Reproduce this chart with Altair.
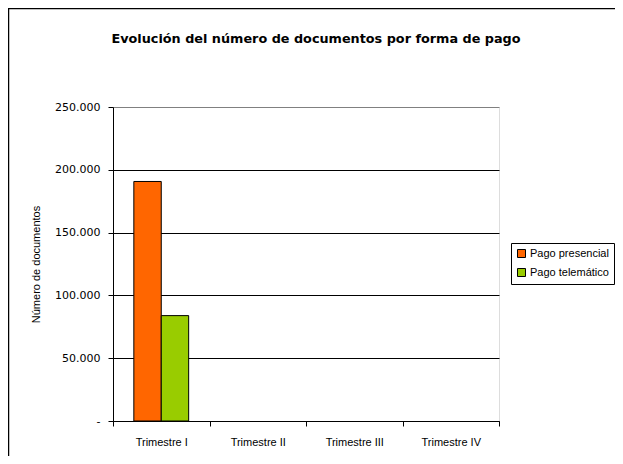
import altair as alt
import pandas as pd

quarters = ["Trimestre I", "Trimestre II", "Trimestre III", "Trimestre IV"]
series = ["Pago presencial", "Pago telemático"]
presencial = [190700, None, None, None]
telematico = [83900, None, None, None]
colors = ["#FF6600", "#99CC00"]

rows = []
for q, p, t in zip(quarters, presencial, telematico):
    rows.append({"trimestre": q, "forma": series[0], "valor": p})
    rows.append({"trimestre": q, "forma": series[1], "valor": t})
df = pd.DataFrame(rows)
df = df.dropna()

FONT = "Liberation Sans"

bars = alt.Chart(df).mark_bar(stroke="black", strokeWidth=1).encode(
    x=alt.X(
        "trimestre:N",
        sort=quarters,
        scale=alt.Scale(domain=quarters, paddingInner=0, paddingOuter=0),
        axis=alt.Axis(
            title=None, labelAngle=0, tickBand="extent", tickSize=5,
            tickColor="black", domainColor="black", labelPadding=10,
            labelFontSize=11, labelFont=FONT, labelColor="black", grid=False,
        ),
    ),
    xOffset=alt.XOffset(
        "forma:N", sort=series,
        scale=alt.Scale(domain=series, paddingInner=0, paddingOuter=0.76),
    ),
    y=alt.Y(
        "valor:Q",
        scale=alt.Scale(domain=[0, 250000], nice=False),
        axis=alt.Axis(
            title="Número de documentos",
            values=[0, 50000, 100000, 150000, 200000, 250000],
            labelExpr="datum.value == 0 ? '-' : replace(format(datum.value, ','), regexp(',', 'g'), '.')",
            tickSize=5, tickColor="black", domainColor="black",
            labelPadding=8, labelFontSize=11, labelFont="DejaVu Sans", labelColor="black",
            grid=True,
            gridColor={"condition": {"test": "datum.value >= 250000", "value": "#808080"}, "value": "black"},
            gridOpacity=1,
            titleFont=FONT, titleFontSize=11, titleFontWeight="normal", titleColor="black",
            titleX=-77, titleY=157, titleAngle=-90, titleBaseline="middle", titleAlign="center",
        ),
    ),
    color=alt.Color(
        "forma:N",
        sort=series,
        scale=alt.Scale(domain=series, range=colors),
        legend=alt.Legend(
            title=None, orient="none", legendX=398, legendY=136,
            symbolType="square", symbolSize=64, symbolStrokeColor="black",
            symbolStrokeWidth=1, symbolOpacity=1,
            labelFont=FONT, labelFontSize=11, labelColor="black", labelOffset=3,
            strokeColor="black", padding=5, rowPadding=6, fillColor="white",
        ),
    ),
)

frame_df = pd.DataFrame({"k": [0]})
frame = alt.Chart(frame_df).mark_rect(fill=None, stroke="black", strokeWidth=1.5, clip=False).encode(
    x=alt.value(-104.5), x2=alt.value(900), y=alt.value(-98.5), y2=alt.value(900)
)

chart = alt.layer(frame, bars).properties(
    width=386,
    height=314,
    title=alt.TitleParams(
        "Evolución del número de documentos por forma de pago",
        font="DejaVu Sans", fontSize=12.8, fontWeight="bold", color="black",
        anchor="middle", frame="group", offset=-48, baseline="alphabetic", dx=10,
    ),
    autosize=alt.AutoSizeParams(type="none"),
    padding={"left": 105, "top": 99, "right": 116, "bottom": 35},
).configure_view(stroke="#808080", strokeWidth=1.5).configure(background="white")

chart.save("out.html", embed_options={"renderer": "svg", "actions": False})
